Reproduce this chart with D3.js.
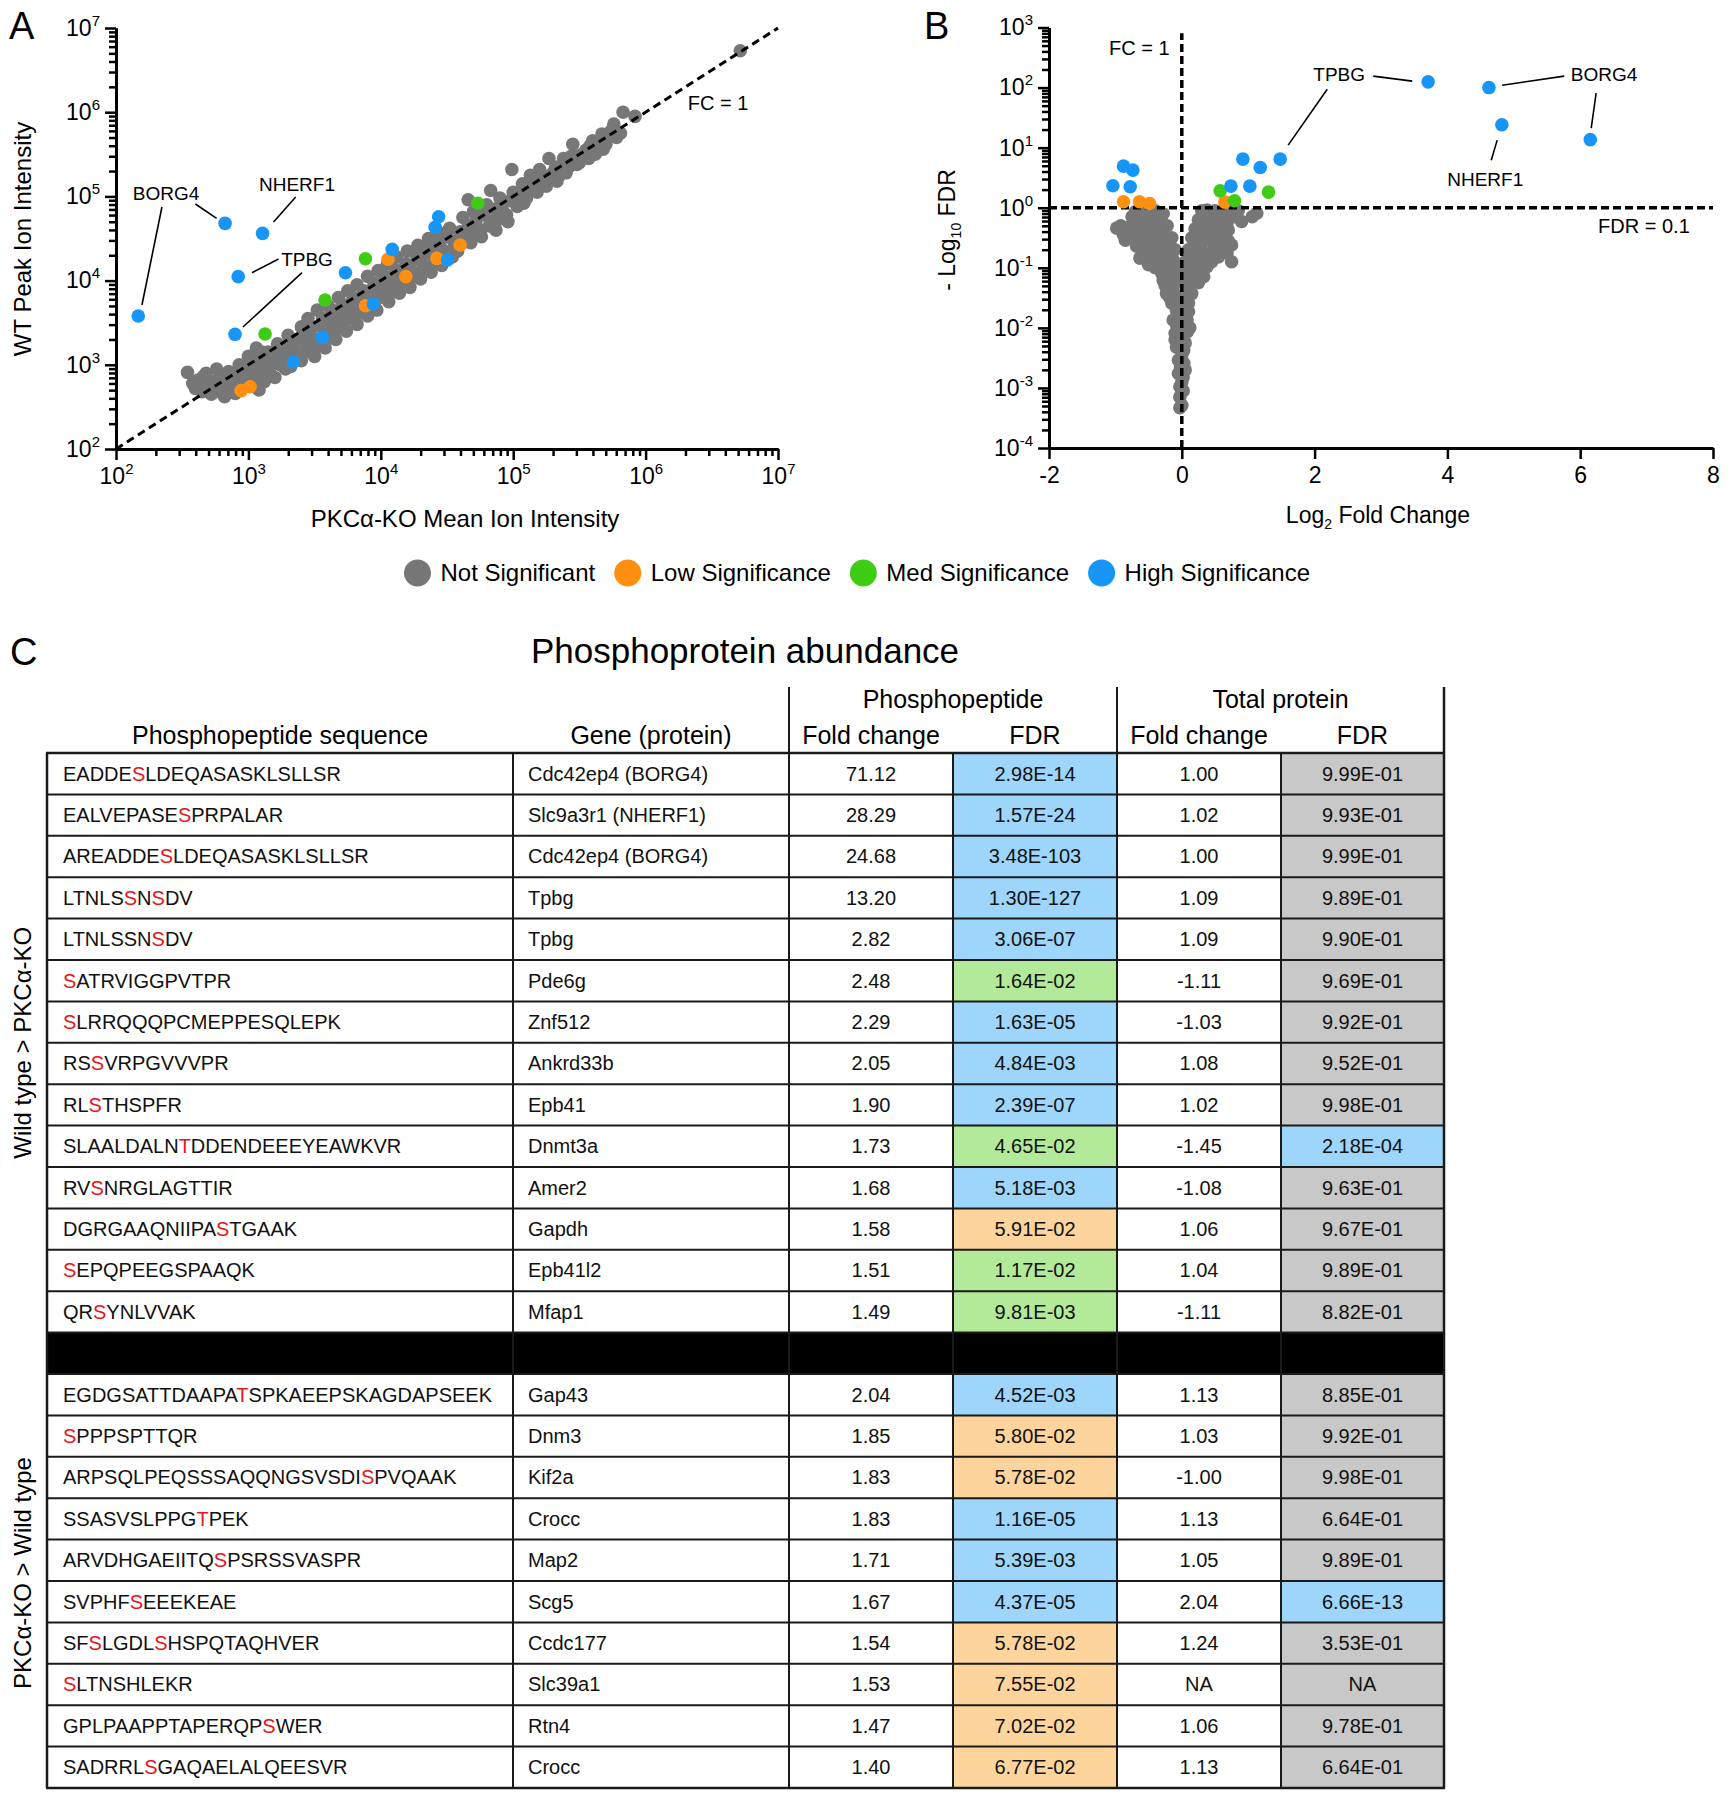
<!DOCTYPE html>
<html>
<head>
<meta charset="utf-8">
<script src="https://cdn.jsdelivr.net/npm/d3@7"></script>
<style>
  body { margin: 0; background: #fff; }
  svg { display: block; font-family: "Liberation Sans", Arial, sans-serif; }
</style>
</head>
<body>
<div id="fig"></div>
<script>
// ---- Panel A: log10(KO mean), log10(WT peak) ----
const aGray = [
  [2.54,2.91],[2.62,2.82],[2.60,2.72],[2.68,2.90],[2.70,2.75],[2.72,2.65],[2.76,2.95],[2.78,2.83],
  [2.80,2.70],[2.82,2.62],[2.85,2.92],[2.88,2.78],[2.90,2.66],[2.93,3.00],[2.95,2.86],[2.97,2.75],
  [3.00,3.10],[3.02,2.95],[3.05,2.82],[3.08,2.70],[3.06,3.20],[3.10,3.05],[3.12,2.90],[3.15,3.15],
  [3.18,3.00],[3.20,2.85],[3.22,3.25],[3.25,3.10],[3.28,2.95],[3.30,3.35],[3.32,3.20],[3.35,3.05],
  [3.38,3.30],[3.40,3.45],[3.42,3.15],[3.45,3.55],[3.47,3.35],[3.50,3.20],[3.52,3.65],[3.55,3.45],
  [3.58,3.30],[3.60,3.70],[3.62,3.55],[3.65,3.40],[3.68,3.80],[3.70,3.62],[3.72,3.48],[3.75,3.88],
  [3.78,3.70],[3.80,3.55],[3.82,3.95],[3.85,3.78],[3.88,3.62],[3.90,4.05],[3.92,3.88],[3.95,3.72],
  [3.98,4.12],[4.00,3.95],[4.02,3.80],[4.05,4.20],[4.08,4.02],[4.10,3.88],[4.12,4.28],[4.15,4.10],
  [4.18,3.95],[4.20,4.35],[4.22,4.18],[4.25,4.05],[4.28,4.42],[4.30,4.25],[4.33,4.12],[4.36,4.50],
  [4.38,4.32],[4.40,4.20],[4.43,4.58],[4.45,4.40],[4.48,4.27],[4.52,4.62],[4.55,4.47],[4.58,4.35],
  [4.62,4.75],[4.64,4.55],[4.66,4.96],[4.68,4.45],[4.70,4.82],[4.73,4.62],[4.76,4.52],[4.80,4.90],
  [4.83,5.07],[4.84,4.70],[4.87,4.60],[4.90,4.98],[4.93,4.80],[4.96,4.70],[4.99,5.32],[5.00,5.05],
  [5.03,4.88],[5.07,5.15],[5.10,4.98],[5.13,5.25],[5.16,5.08],[5.20,5.32],[5.22,5.15],[5.27,5.45],
  [5.28,5.22],[5.32,5.35],[5.35,5.25],[5.38,5.45],[5.42,5.35],[5.45,5.62],[5.47,5.48],[5.50,5.40],
  [5.55,5.55],[5.60,5.66],[5.62,5.50],[5.67,5.74],[5.70,5.62],[5.76,5.86],[5.78,5.70],[5.81,5.75],
  [5.83,6.00],[5.92,5.95],[6.715,6.73],
  [2.58,2.78],[2.65,2.68],[2.66,2.86],[2.74,2.80],[2.75,2.68],[2.84,2.74],[2.86,2.84],[2.92,2.72],
  [2.94,2.90],[2.98,2.82],[3.00,2.98],[3.03,2.76],[3.04,3.05],[3.08,2.93],[3.10,3.15],[3.12,2.80],
  [3.14,3.05],[3.16,2.92],[3.20,3.12],[3.24,3.00],[3.26,3.20],[3.30,3.08],[3.32,2.98],[3.34,3.28],
  [3.37,3.15],[3.40,3.05],[3.43,3.35],[3.45,3.22],[3.48,3.45],[3.50,3.10],[3.53,3.30],[3.56,3.55],
  [3.58,3.20],[3.60,3.45],[3.63,3.65],[3.66,3.30],[3.68,3.52],[3.71,3.72],[3.74,3.40],[3.76,3.60],
  [3.79,3.80],[3.82,3.48],[3.84,3.68],[3.87,3.88],[3.90,3.58],[3.92,3.76],[3.95,3.97],[3.97,3.65],
  [4.00,3.85],[4.03,4.05],[4.06,3.75],[4.08,3.92],[4.11,4.13],[4.14,3.85],[4.16,4.00],[4.19,4.20],
  [4.22,3.92],[4.24,4.10],[4.27,4.30],[4.30,4.02],[4.32,4.18],[4.35,4.38],[4.38,4.10],[4.40,4.27],
  [4.42,4.47],[4.46,4.18],[4.48,4.35],[4.50,4.52],[4.54,4.28],[4.56,4.42],[4.60,4.58],[4.62,4.45],
  [4.66,4.65],[4.70,4.55],[4.72,4.72],[4.75,4.60],[4.78,4.78],[4.82,4.65],[4.86,4.85],[4.88,4.72],
  [4.92,4.90],[4.95,4.78],[4.98,4.95],[5.02,4.98],[5.05,5.05],[5.08,4.92],[5.12,5.10],[5.15,5.20],
  [5.18,5.05],[5.22,5.25],[5.25,5.12],[5.30,5.28],[5.33,5.18],[5.37,5.35],[5.40,5.28],[5.44,5.48],
  [5.48,5.38],[5.52,5.50],[5.57,5.45],[5.58,5.60],[5.64,5.62],[5.68,5.56],[5.72,5.70],[5.74,5.78]
];
const aLow = [[2.945,2.693],[3.013,2.74],[3.884,3.702],[4.054,4.253],[4.189,4.047],[4.424,4.264],[4.599,4.423]];
const aMed = [[3.126,3.366],[3.579,3.77],[3.884,4.26],[4.733,4.918]];
const aHigh = [
  [2.168,3.58],[2.824,4.68],[3.107,4.561],[2.923,4.047],[2.899,3.362],[3.339,3.033],[3.558,3.326],
  [3.733,4.094],[3.943,3.722],[4.086,4.371],[4.41,4.633],[4.437,4.759],[4.504,4.245]
];
// callouts: label position and leader lines, in log10 data units
const aCallouts = [
  { text: "BORG4", at: [2.378, 5.04], lines: [[[2.347,4.874],[2.196,3.71]], [[2.60,4.91],[2.76,4.74]]] },
  { text: "NHERF1", at: [3.367, 5.147], lines: [[[3.357,4.993],[3.19,4.696]]] },
  { text: "TPBG", at: [3.443, 4.257], lines: [[[3.228,4.257],[3.027,4.094]], [[3.405,4.094],[2.959,3.449]]] }
];

// ---- Panel B: log2 fold change, log10(-log10 FDR) ----
const bGray = [
  [-0.70,-0.07],[-0.60,-0.05],[-0.50,-0.07],[-0.40,-0.05],[-0.75,-0.15],[-0.63,-0.18],[-0.50,-0.15],
  [-0.38,-0.15],[-0.98,-0.34],[-0.83,-0.33],[-0.85,-0.54],[-0.68,-0.37],[-0.55,-0.32],[-0.43,-0.29],
  [-0.33,-0.21],[-0.65,-0.54],[-0.53,-0.48],[-0.40,-0.46],[-0.30,-0.37],[-0.63,-0.84],[-0.58,-0.71],
  [-0.45,-0.65],[-0.33,-0.59],[-0.23,-0.54],[-0.48,-0.87],[-0.38,-0.82],[-0.28,-0.76],[-0.18,-0.71],
  [-0.33,-1.01],[-0.23,-0.93],[-0.13,-0.87],[-0.28,-1.21],[-0.18,-1.15],[-0.08,-1.04],[-0.23,-1.43],
  [-0.13,-1.32],[-0.05,-1.21],
  [-0.92,-0.30],[-0.88,-0.45],[-0.78,-0.42],[-0.72,-0.25],[-0.60,-0.27],[-0.56,-0.60],[-0.68,-0.64],
  [-0.50,-0.55],[-0.45,-0.38],[-0.35,-0.50],[-0.55,-0.78],[-0.50,-0.95],[-0.42,-0.72],[-0.40,-1.00],
  [-0.35,-0.88],[-0.25,-0.63],[-0.20,-0.80],[-0.30,-1.10],[-0.20,-1.00],[-0.15,-1.20],[-0.25,-1.30],
  [-0.10,-1.45],[-0.18,-1.50],[-0.28,-0.10],[-0.22,-0.30],[-0.15,-0.50],[-0.10,-0.70],[-0.05,-0.95],
  [0.38,-0.04],[0.50,-0.05],[0.63,-0.07],[0.73,-0.09],[0.90,-0.23],[1.13,-0.09],[1.06,-0.15],
  [0.33,-0.15],[0.45,-0.18],[0.58,-0.21],[0.68,-0.26],[0.28,-0.32],[0.40,-0.37],[0.53,-0.37],
  [0.65,-0.43],[0.75,-0.62],[0.70,-0.37],[0.23,-0.48],[0.35,-0.54],[0.48,-0.59],[0.63,-0.65],
  [0.75,-0.90],[0.18,-0.65],[0.30,-0.71],[0.43,-0.76],[0.55,-0.82],[0.13,-0.82],[0.25,-0.87],
  [0.38,-0.98],[0.10,-0.98],[0.20,-1.09],[0.33,-1.15],[0.08,-1.32],[0.15,-1.43],[0.10,-1.59],
  [0.30,-0.05],[0.25,-0.20],[0.55,-0.12],[0.80,-0.15],[0.85,-0.05],[0.60,-0.30],[0.35,-0.28],
  [0.20,-0.35],[0.15,-0.50],[0.28,-0.60],[0.42,-0.50],[0.58,-0.50],[0.70,-0.55],[0.52,-0.68],
  [0.38,-0.85],[0.10,-0.70],[0.05,-0.90],[0.20,-0.95],[0.28,-1.02],[0.45,-0.90],[0.15,-1.20],
  [0.25,-1.25],[0.05,-1.10],[0.05,-1.45],[0.68,-0.75],
  [-0.15,-1.59],[-0.08,-1.71],[0.03,-1.65],[0.10,-1.73],[-0.13,-1.87],[-0.03,-1.93],[0.08,-1.87],
  [-0.10,-2.09],[0.00,-2.15],[0.08,-2.07],[-0.08,-2.32],[0.03,-2.37],[-0.05,-2.54],[0.03,-2.59],
  [-0.05,-2.76],[0.02,-2.82],[-0.03,-2.98],[0.00,-3.29],[-0.03,-3.33],
  [-0.05,-1.60],[0.05,-1.80],[-0.08,-1.95],[0.12,-2.00],[0.05,-2.25],[-0.10,-2.20],[0.00,-2.45],
  [-0.02,-2.65],[0.05,-2.70],[0.00,-2.90],[0.02,-3.05],[-0.03,-3.15]
];
const bLow = [[-0.878,0.099],[-0.637,0.099],[-0.486,0.071],[0.649,0.093]];
const bMed = [[0.578,0.281],[0.794,0.115],[1.306,0.26]];
const bHigh = [
  [-0.878,0.692],[-0.737,0.626],[-1.038,0.365],[-0.777,0.348],[0.92,0.809],[1.181,0.67],
  [1.482,0.809],[0.739,0.359],[1.025,0.359],[3.71,2.095],[4.625,2.0],[4.82,1.38],[6.152,1.133]
];
const bCallouts = [
  { text: "TPBG", at: [2.37, 2.223], lines: [[[2.883,2.19],[3.47,2.107]], [[2.19,1.973],[1.602,1.042]]] },
  { text: "BORG4", at: [6.36, 2.223], lines: [[[5.76,2.19],[4.825,2.04]], [[6.24,1.907],[6.166,1.324]]] },
  { text: "NHERF1", at: [4.57, 0.476], lines: [[[4.75,1.125],[4.66,0.79]]] }
];

// ---- legend ----
const sigKeys = ["ns", "low", "med", "high"];
const sigNames = ["Not Significant", "Low Significance", "Med Significance", "High Significance"];

// ---- Panel C table ----
const seqs = [
  "EADDE[S]LDEQASASKLSLLSR", "EALVEPASE[S]PRPALAR", "AREADDE[S]LDEQASASKLSLLSR", "LTNLS[S]N[S]DV",
  "LTNLSSN[S]DV", "[S]ATRVIGGPVTPR", "[S]LRRQQQPCMEPPESQLEPK", "RS[S]VRPGVVVPR", "RL[S]THSPFR",
  "SLAALDALN[T]DDENDEEEYEAWKVR", "RV[S]NRGLAGTTIR", "DGRGAAQNIIPA[S]TGAAK", "[S]EPQPEEGSPAAQK",
  "QR[S]YNLVVAK",
  "EGDGSATTDAAPA[T]SPKAEEPSKAGDAPSEEK", "[S]PPPSPTTQR", "ARPSQLPEQSSSAQQNGSVSDI[S]PVQAAK",
  "SSASVSLPPG[T]PEK", "ARVDHGAEIITQ[S]PSRSSVASPR", "SVPHF[S]EEEKEAE", "SF[S]LGDL[S]HSPQTAQHVER",
  "[S]LTNSHLEKR", "GPLPAAPPTAPERQP[S]WER", "SADRRL[S]GAQAELALQEESVR"
];
const genes = [
  "Cdc42ep4 (BORG4)", "Slc9a3r1 (NHERF1)", "Cdc42ep4 (BORG4)", "Tpbg", "Tpbg", "Pde6g", "Znf512",
  "Ankrd33b", "Epb41", "Dnmt3a", "Amer2", "Gapdh", "Epb41l2", "Mfap1",
  "Gap43", "Dnm3", "Kif2a", "Crocc", "Map2", "Scg5", "Ccdc177", "Slc39a1", "Rtn4", "Crocc"
];
const pepFC = ["71.12","28.29","24.68","13.20","2.82","2.48","2.29","2.05","1.90","1.73","1.68","1.58","1.51","1.49",
  "2.04","1.85","1.83","1.83","1.71","1.67","1.54","1.53","1.47","1.40"];
const pepFDR = ["2.98E-14","1.57E-24","3.48E-103","1.30E-127","3.06E-07","1.64E-02","1.63E-05","4.84E-03","2.39E-07",
  "4.65E-02","5.18E-03","5.91E-02","1.17E-02","9.81E-03",
  "4.52E-03","5.80E-02","5.78E-02","1.16E-05","5.39E-03","4.37E-05","5.78E-02","7.55E-02","7.02E-02","6.77E-02"];
const pepSig = ["high","high","high","high","high","med","high","high","high","med","high","low","med","med",
  "high","low","low","high","high","high","low","low","low","low"];
const protFC = ["1.00","1.02","1.00","1.09","1.09","-1.11","-1.03","1.08","1.02","-1.45","-1.08","1.06","1.04","-1.11",
  "1.13","1.03","-1.00","1.13","1.05","2.04","1.24","NA","1.06","1.13"];
const protFDR = ["9.99E-01","9.93E-01","9.99E-01","9.89E-01","9.90E-01","9.69E-01","9.92E-01","9.52E-01","9.98E-01",
  "2.18E-04","9.63E-01","9.67E-01","9.89E-01","8.82E-01",
  "8.85E-01","9.92E-01","9.98E-01","6.64E-01","9.89E-01","6.66E-13","3.53E-01","NA","9.78E-01","6.64E-01"];
const protSig = ["ns","ns","ns","ns","ns","ns","ns","ns","ns","high","ns","ns","ns","ns",
  "ns","ns","ns","ns","ns","high","ns","ns","ns","ns"];
const nWtUp = 14; // rows above the black divider

// ------------------------------------------------------------
const W = 1730, H = 1800;
const dotColor = { ns: "#777777", low: "#ff8f10", med: "#3fcc14", high: "#1796f7" };
const cellColor = { ns: "#c8c8c8", low: "#fdd59c", med: "#b3ea99", high: "#9dd5fb" };
const p10 = (v) => Math.pow(10, v);

const svg = d3.select("#fig").append("svg").attr("width", W).attr("height", H);

function expLabels(g) {
  g.attr("font-size", null).attr("font-family", null);
  g.selectAll(".tick text").each(function (d) {
    const t = d3.select(this);
    const e = Math.round(Math.log10(d));
    t.text(null).attr("font-size", 23).attr("fill", "#000");
    t.append("tspan").text("10");
    t.append("tspan").attr("dy", -10).attr("font-size", 15).text(String(e));
  });
}

function styleAxis(g) {
  g.select(".domain").attr("stroke", "#000").attr("stroke-width", 3);
  g.selectAll(".tick line").attr("stroke", "#000").attr("stroke-width", 2.5);
}

function minorLog(lo, hi) {
  const out = [];
  for (let k = lo; k < hi; k++) for (let m = 2; m <= 9; m++) out.push(m * Math.pow(10, k));
  return out;
}

function dots(g, data, sx, sy, fx, fy, color) {
  g.append("g").selectAll("circle").data(data).enter().append("circle")
    .attr("cx", (d) => sx(fx(d[0]))).attr("cy", (d) => sy(fy(d[1])))
    .attr("r", 6.8).attr("fill", color);
}

function callouts(g, list, sx, sy, fx, fy) {
  list.forEach((c) => {
    c.lines.forEach((l) => {
      g.append("line")
        .attr("x1", sx(fx(l[0][0]))).attr("y1", sy(fy(l[0][1])))
        .attr("x2", sx(fx(l[1][0]))).attr("y2", sy(fy(l[1][1])))
        .attr("stroke", "#000").attr("stroke-width", 1.6);
    });
    g.append("text").attr("x", sx(fx(c.at[0]))).attr("y", sy(fy(c.at[1])))
      .attr("dy", "0.35em").attr("text-anchor", "middle").attr("font-size", 19).text(c.text);
  });
}

// ================= Panel A =================
const ax = d3.scaleLog().domain([1e2, 1e7]).range([116, 778]);
const ay = d3.scaleLog().domain([1e2, 1e7]).range([449, 28]);
const majors = [1e2, 1e3, 1e4, 1e5, 1e6, 1e7];
const gA = svg.append("g");

gA.append("g").attr("transform", "translate(0,449)")
  .call(d3.axisBottom(ax).tickValues(minorLog(2, 7)).tickSize(7).tickFormat("").tickSizeOuter(0))
  .call(styleAxis);
gA.append("g").attr("transform", "translate(116,0)")
  .call(d3.axisLeft(ay).tickValues(minorLog(2, 7)).tickSize(7).tickFormat("").tickSizeOuter(0))
  .call(styleAxis);
gA.append("g").attr("transform", "translate(0,449)")
  .call(d3.axisBottom(ax).tickValues(majors).tickSize(11).tickPadding(8).tickSizeOuter(0))
  .call(styleAxis).call(expLabels);
gA.append("g").attr("transform", "translate(116,0)")
  .call(d3.axisLeft(ay).tickValues(majors).tickSize(11).tickPadding(5).tickSizeOuter(0))
  .call(styleAxis).call(expLabels);

dots(gA, aGray, ax, ay, p10, p10, dotColor.ns);
gA.append("line")
  .attr("x1", ax(1e2)).attr("y1", ay(1e2)).attr("x2", ax(1e7)).attr("y2", ay(1e7))
  .attr("stroke", "#000").attr("stroke-width", 3).attr("stroke-dasharray", "8,5");
dots(gA, aLow, ax, ay, p10, p10, dotColor.low);
dots(gA, aMed, ax, ay, p10, p10, dotColor.med);
dots(gA, aHigh, ax, ay, p10, p10, dotColor.high);
callouts(gA, aCallouts, ax, ay, p10, p10);

gA.append("text").attr("x", ax(p10(6.547))).attr("y", ay(p10(6.109))).attr("dy", "0.35em")
  .attr("text-anchor", "middle").attr("font-size", 20).text("FC = 1");
gA.append("text").attr("x", 465).attr("y", 527).attr("text-anchor", "middle")
  .attr("font-size", 24).text("PKCα-KO Mean Ion Intensity");
gA.append("text").attr("transform", "translate(31,239) rotate(-90)").attr("text-anchor", "middle")
  .attr("font-size", 24).text("WT Peak Ion Intensity");
svg.append("text").attr("x", 9).attr("y", 39).attr("font-size", 38).text("A");

// ================= Panel B =================
const bx = d3.scaleLinear().domain([-2, 8]).range([1049, 1713]);
const by = d3.scaleLog().domain([1e-4, 1e3]).range([448, 27.5]);
const gB = svg.append("g");
const lin = (v) => v;

gB.append("g").attr("transform", "translate(1049,0)")
  .call(d3.axisLeft(by).tickValues(minorLog(-4, 3)).tickSize(7).tickFormat("").tickSizeOuter(0))
  .call(styleAxis);
gB.append("g").attr("transform", "translate(1049,0)")
  .call(d3.axisLeft(by).tickValues(d3.range(-4, 4).map(p10)).tickSize(11).tickPadding(5).tickSizeOuter(0))
  .call(styleAxis).call(expLabels);
gB.append("g").attr("transform", "translate(0,448)")
  .call(d3.axisBottom(bx).tickValues([-2, 0, 2, 4, 6, 8]).tickSize(11).tickPadding(8)
    .tickFormat((d) => String(d)).tickSizeOuter(0))
  .call(styleAxis)
  .call((g) => g.attr("font-size", null).attr("font-family", null)
    .selectAll(".tick text").attr("font-size", 23).attr("fill", "#000"));

dots(gB, bGray, bx, by, lin, p10, dotColor.ns);
gB.append("line").attr("x1", bx(0)).attr("x2", bx(0)).attr("y1", by(1e-4)).attr("y2", by(p10(2.905)))
  .attr("stroke", "#000").attr("stroke-width", 3.5).attr("stroke-dasharray", "8,4");
gB.append("line").attr("x1", bx(-2)).attr("x2", bx(8)).attr("y1", by(1)).attr("y2", by(1))
  .attr("stroke", "#000").attr("stroke-width", 3.5).attr("stroke-dasharray", "8,4");
dots(gB, bLow, bx, by, lin, p10, dotColor.low);
dots(gB, bMed, bx, by, lin, p10, dotColor.med);
dots(gB, bHigh, bx, by, lin, p10, dotColor.high);
callouts(gB, bCallouts, bx, by, lin, p10);

gB.append("text").attr("x", bx(-0.64)).attr("y", by(p10(2.656))).attr("dy", "0.35em")
  .attr("text-anchor", "middle").attr("font-size", 20).text("FC = 1");
gB.append("text").attr("x", bx(6.96)).attr("y", by(p10(-0.306))).attr("dy", "0.35em")
  .attr("text-anchor", "middle").attr("font-size", 20).text("FDR = 0.1");

const bxt = gB.append("text").attr("x", 1378).attr("y", 523).attr("text-anchor", "middle").attr("font-size", 23);
bxt.append("tspan").text("Log");
bxt.append("tspan").attr("dy", 6).attr("font-size", 14).text("2");
bxt.append("tspan").attr("dy", -6).text(" Fold Change");
const byt = gB.append("text").attr("transform", "translate(955,230) rotate(-90)")
  .attr("text-anchor", "middle").attr("font-size", 23);
byt.append("tspan").text("- Log");
byt.append("tspan").attr("dy", 6).attr("font-size", 14).text("10");
byt.append("tspan").attr("dy", -6).text(" FDR");
svg.append("text").attr("x", 924).attr("y", 39).attr("font-size", 38).text("B");

// ================= Legend =================
const leg = svg.append("g").attr("font-size", 24);
let lx = 0;
const items = leg.selectAll("g").data(sigKeys).enter().append("g");
items.append("circle").attr("r", 13.5).attr("cy", 0).attr("fill", (d) => dotColor[d]);
items.append("text").attr("x", 23).attr("dy", "0.35em").text((d, i) => sigNames[i]);
items.each(function () {
  const g = d3.select(this);
  g.attr("transform", `translate(${lx + 13.5},0)`);
  lx += 13.5 + 23 + g.select("text").node().getComputedTextLength() + 19;
});
lx -= 19;
leg.attr("transform", `translate(${857 - lx / 2},573)`);

// ================= Panel C =================
svg.append("text").attr("x", 10).attr("y", 665).attr("font-size", 38).text("C");
svg.append("text").attr("x", 745).attr("y", 663).attr("text-anchor", "middle")
  .attr("font-size", 35).text("Phosphoprotein abundance");

const colX = [47, 513, 789, 953, 1117, 1281, 1444];
const tTop = 753, rowH = 41.4;
const nRows = seqs.length + 1;
const tBottom = tTop + nRows * rowH;
const gC = svg.append("g");

// header
const hdr = gC.append("g").attr("font-size", 25).attr("text-anchor", "middle");
hdr.append("text").attr("x", (colX[2] + colX[4]) / 2).attr("y", 708).text("Phosphopeptide");
hdr.append("text").attr("x", (colX[4] + colX[6]) / 2).attr("y", 708).text("Total protein");
const sub = ["Phosphopeptide sequence", "Gene (protein)", "Fold change", "FDR", "Fold change", "FDR"];
sub.forEach((s, i) => {
  const cx = i === 0 ? 280 : i === 1 ? 651 : (colX[i] + colX[i + 1]) / 2;
  hdr.append("text").attr("x", cx).attr("y", 744).text(s);
});

// rows: data rows with a black divider after the first group
const rows = seqs.map((s, i) => ({ i, slot: i < nWtUp ? i : i + 1 }));
const rowG = gC.selectAll(".row").data(rows).enter().append("g")
  .attr("transform", (d) => `translate(0,${tTop + d.slot * rowH})`);

rowG.append("rect").attr("x", colX[3]).attr("width", colX[4] - colX[3]).attr("height", rowH)
  .attr("fill", (d) => cellColor[pepSig[d.i]]);
rowG.append("rect").attr("x", colX[5]).attr("width", colX[6] - colX[5]).attr("height", rowH)
  .attr("fill", (d) => cellColor[protSig[d.i]]);

const ty = rowH / 2 + 7;
rowG.append("text").attr("x", 63).attr("y", ty).attr("font-size", 20).each(function (d) {
  const t = d3.select(this);
  seqs[d.i].split(/(\[[A-Z]\])/).filter((p) => p.length).forEach((p) => {
    const red = p[0] === "[";
    t.append("tspan").attr("fill", red ? "#e8151b" : "#111").text(red ? p[1] : p);
  });
});
rowG.append("text").attr("x", 528).attr("y", ty).attr("font-size", 20).attr("fill", "#111")
  .text((d) => genes[d.i]);
const vals = [pepFC, pepFDR, protFC, protFDR];
vals.forEach((arr, k) => {
  rowG.append("text").attr("x", (colX[k + 2] + colX[k + 3]) / 2).attr("y", ty)
    .attr("text-anchor", "middle").attr("font-size", 20).attr("fill", "#111")
    .text((d) => arr[d.i]);
});

// black divider
gC.append("rect").attr("x", colX[0]).attr("y", tTop + nWtUp * rowH)
  .attr("width", colX[6] - colX[0]).attr("height", rowH).attr("fill", "#000");

// grid lines
d3.range(nRows + 1).forEach((r) => {
  gC.append("line").attr("x1", colX[0] - 1).attr("x2", colX[6] + 1)
    .attr("y1", tTop + r * rowH).attr("y2", tTop + r * rowH)
    .attr("stroke", "#1a1a1a").attr("stroke-width", r === 0 || r === nRows ? 2.5 : 2);
});
colX.forEach((x, i) => {
  const top = i === 2 || i === 4 || i === 6 ? 687 : tTop;
  gC.append("line").attr("x1", x).attr("x2", x).attr("y1", top).attr("y2", tBottom)
    .attr("stroke", "#1a1a1a").attr("stroke-width", i === 0 || i === 6 ? 2.5 : 2);
});

// group labels
gC.append("text").attr("transform", `translate(31,${tTop + (nWtUp / 2) * rowH}) rotate(-90)`)
  .attr("text-anchor", "middle").attr("font-size", 24).text("Wild type > PKCα-KO");
gC.append("text")
  .attr("transform", `translate(31,${tTop + (nWtUp + 1 + (seqs.length - nWtUp) / 2) * rowH - 8}) rotate(-90)`)
  .attr("text-anchor", "middle").attr("font-size", 24).text("PKCα-KO > Wild type");
</script>
</body>
</html>
